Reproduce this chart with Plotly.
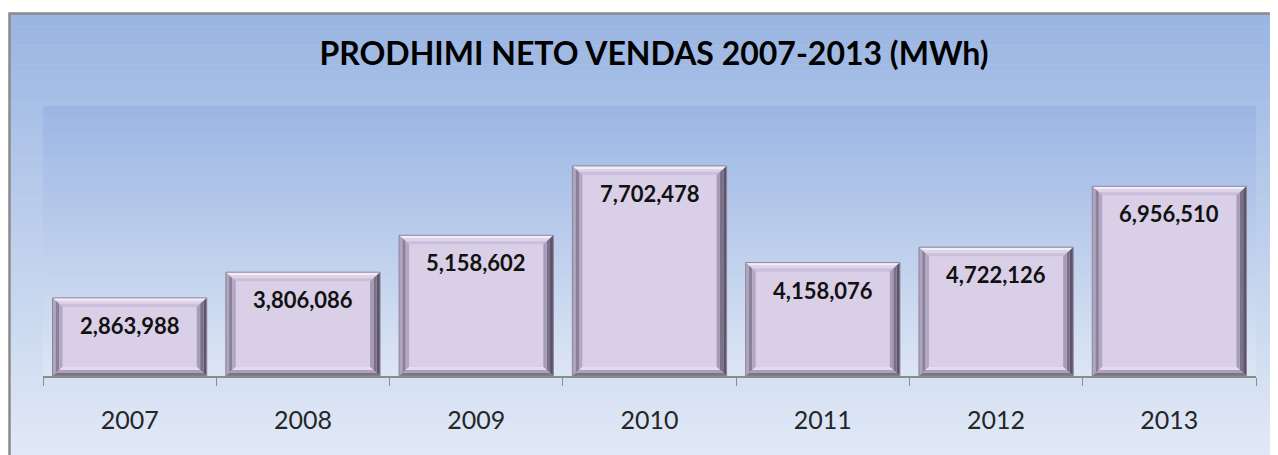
import plotly.graph_objects as go

# ---- data ----
years = ["2007", "2008", "2009", "2010", "2011", "2012", "2013"]
production_mwh = [2863988, 3806086, 5158602, 7702478, 4158076, 4722126, 6956510]
value_labels = ["2,863,988", "3,806,086", "5,158,602", "7,702,478", "4,158,076", "4,722,126", "6,956,510"]
title_text = "PRODHIMI NETO VENDAS 2007-2013 (MWh)"

# ---- layout constants (figure pixels; the page adds an 8px body margin) ----
OFF = 8
W, H = 1278 - OFF, 455 - OFF
ML, MR, MT, MB = 43 - OFF, 22, 106 - OFF, 79
PW, PH = W - ML - MR, H - MT - MB
YMAX = 9.9e6
BAR_W = 0.89
FONT = "Lato"

idx = list(range(len(years)))


def hexlerp(c1, c2, t):
    a = [int(c1[i:i + 2], 16) for i in (1, 3, 5)]
    b = [int(c2[i:i + 2], 16) for i in (1, 3, 5)]
    return "#%02x%02x%02x" % tuple(round(a[k] + (b[k] - a[k]) * t) for k in range(3))


def px_to_paper_x(px):
    return (px - ML) / PW


def px_to_paper_y(py):
    return (H - MB - py) / PH


shapes = []

# outer frame gradient
frame_left, frame_top, frame_bot = 1.5, 5.5, H + 2
n = 70
for k in range(n):
    y0 = frame_top + (frame_bot - frame_top) * k / n
    y1 = frame_top + (frame_bot - frame_top) * (k + 1) / n + 0.6
    shapes.append(dict(type="rect", xref="paper", yref="paper", layer="below",
                       x0=px_to_paper_x(frame_left), x1=px_to_paper_x(W + 2),
                       y0=px_to_paper_y(y1), y1=px_to_paper_y(y0),
                       fillcolor=hexlerp("#9ab5e2", "#e1e9f6", k / (n - 1)), line_width=0))
# frame border
shapes.append(dict(type="rect", xref="paper", yref="paper", layer="below",
                   x0=px_to_paper_x(frame_left), x1=px_to_paper_x(W + 5),
                   y0=px_to_paper_y(H + 5), y1=px_to_paper_y(frame_top),
                   fillcolor="rgba(0,0,0,0)", line=dict(color="#8a8a8a", width=2.5)))
# plot area gradient
n = 50
for k in range(n):
    shapes.append(dict(type="rect", xref="paper", yref="paper", layer="below",
                       x0=0, x1=1, y0=1 - (k + 1) / n - 0.002, y1=1 - k / n,
                       fillcolor=hexlerp("#9cb6e4", "#dce5f4", k / (n - 1)), line_width=0))

# bevel frames of the bars, computed from data
dx = 10 / (PW / len(years))
dy = 9 * YMAX / PH
sides = {
    "top": ["#f2eef8", "#ddd4ea", "#cabfda"],
    "left": ["#aea5be", "#8a8099", "#b3a8c4"],
    "right": ["#5c5468", "#7a7088", "#a79cb8"],
    "bottom": ["#7c728c", "#aaa0bb", "#e3dcef"],
}
ts = [0, 0.33, 0.66, 1.0]


def rect_at(i, v, t):
    x0 = i - BAR_W / 2 + t * dx
    x1 = i + BAR_W / 2 - t * dx
    return x0, x1, t * dy, v - t * dy


for i, v in zip(idx, production_mwh):
    for side, cols in sides.items():
        for j in range(3):
            a0, a1, ab, at = rect_at(i, v, ts[j])
            b0, b1, bb, bt = rect_at(i, v, ts[j + 1])
            if side == "top":
                pts = [(a0, at), (a1, at), (b1, bt), (b0, bt)]
            elif side == "bottom":
                pts = [(a0, ab), (a1, ab), (b1, bb), (b0, bb)]
            elif side == "left":
                pts = [(a0, ab), (a0, at), (b0, bt), (b0, bb)]
            else:
                pts = [(a1, ab), (a1, at), (b1, bt), (b1, bb)]
            path = "M " + " L ".join(f"{x:.5f},{y:.1f}" for x, y in pts) + " Z"
            shapes.append(dict(type="path", xref="x", yref="y", layer="above",
                               path=path, fillcolor=cols[j], line_width=0))
    x0, x1, y0, y1 = rect_at(i, v, 0)
    shapes.append(dict(type="rect", xref="x", yref="y", layer="above",
                       x0=x0, x1=x1, y0=y0, y1=y1, fillcolor="rgba(0,0,0,0)",
                       line=dict(color="#8d849c", width=1)))

fig = go.Figure()
fig.add_trace(go.Bar(x=idx, y=production_mwh, width=BAR_W,
                     marker=dict(color="#d9d0e7", line_width=0),
                     customdata=years, hovertemplate="%{customdata}: %{y:,}<extra></extra>",
                     showlegend=False))

annotations = [dict(x=i, y=v, text="<b>%s</b>" % lab, showarrow=False,
                    yanchor="top", yshift=-12, font=dict(family=FONT, size=22, color="#111111"))
               for i, v, lab in zip(idx, production_mwh, value_labels)]

boundaries = [i - 0.5 for i in idx] + [idx[-1] + 0.5]

fig.update_layout(
    width=W, height=H,
    margin=dict(l=ML, r=MR, t=MT, b=MB, pad=0),
    paper_bgcolor="white", plot_bgcolor="rgba(0,0,0,0)",
    title=dict(text="<b>%s</b>" % title_text, x=(654 - OFF) / W, xanchor="center",
               y=1 - (54 - OFF) / H, yanchor="middle", yref="container",
               font=dict(family=FONT, size=32, color="#000000")),
    shapes=shapes, annotations=annotations,
    xaxis=dict(range=[-0.5, len(years) - 0.5], autorange=False,
               tickmode="array", tickvals=idx, ticktext=years, ticks="",
               minor=dict(tickmode="array", tickvals=boundaries, ticks="outside", ticklen=8,
                          tickcolor="#8c8c8c", tickwidth=1.3, showgrid=False),
               showline=True, linecolor="#8c8c8c",
               linewidth=1.5, showgrid=False, zeroline=False, ticklabelstandoff=21,
               tickfont=dict(family=FONT, size=25, color="#262626")),
    yaxis=dict(range=[0, YMAX], autorange=False, visible=False, showgrid=False, zeroline=False),
    font=dict(family=FONT),
)

fig.write_html("out.html")
